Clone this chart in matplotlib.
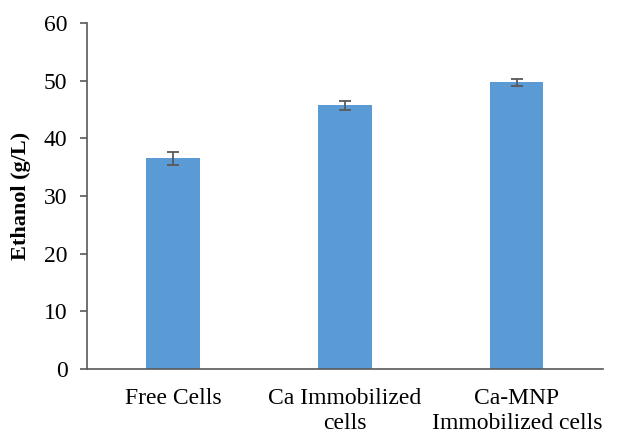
import matplotlib
matplotlib.use('Agg')
import matplotlib.pyplot as plt

# data
categories = ['Free Cells', 'Ca Immobilized\ncells', 'Ca-MNP\nImmobilized cells']
ethanol = [36.5, 45.7, 49.7]
ethanol_err = [1.05, 0.8, 0.65]
y_ticks = [0, 10, 20, 30, 40, 50, 60]

plt.rcParams['font.family'] = ['Liberation Serif', 'DejaVu Serif']

fig = plt.figure(figsize=(6.17, 4.33), dpi=100)
ax = fig.add_axes([0.141, 0.148, 0.836, 0.799])

x = range(len(categories))
ax.bar(x, ethanol, width=0.31, color='#5B9BD5',
       yerr=ethanol_err, capsize=4.5,
       error_kw=dict(ecolor='#595959', elinewidth=1.3, capthick=1.3))

ax.set_xlim(-0.5, len(categories) - 0.5)
ax.set_ylim(0, 60)
ax.set_yticks(y_ticks)
ax.set_xticks(list(x))
ax.set_xticklabels(categories, fontsize=17, linespacing=1.25)
ax.tick_params(axis='x', length=0, pad=14)
ax.tick_params(axis='y', direction='out', length=5, width=1.2, color='#595959',
               labelsize=17, pad=9)

for side in ['top', 'right']:
    ax.spines[side].set_visible(False)
for side in ['left', 'bottom']:
    ax.spines[side].set_color('#595959')
    ax.spines[side].set_linewidth(1.2)

ax.set_ylabel('Ethanol (g/L)', fontsize=16, fontweight='bold', labelpad=9)

fig.savefig('out.png', dpi=100)
